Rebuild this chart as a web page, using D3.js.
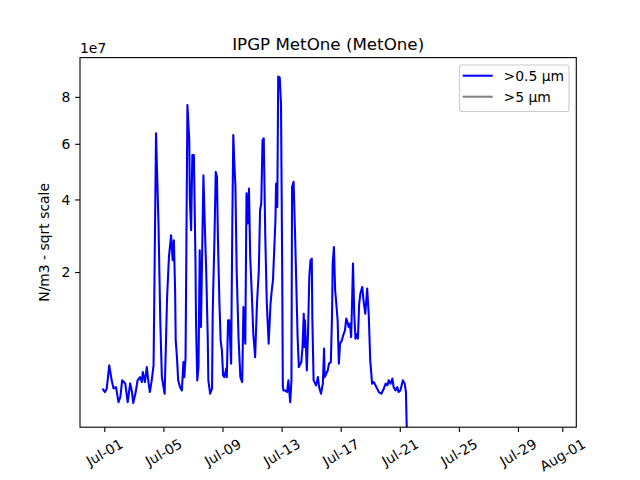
<!DOCTYPE html>
<html>
<head>
<meta charset="utf-8">
<script src="https://cdn.jsdelivr.net/npm/d3@7"></script>
<style>
html,body{margin:0;padding:0;background:#fff;}
svg{display:block;font-family:"DejaVu Sans",sans-serif;}
</style>
</head>
<body>
<svg id="chart" width="640" height="480"></svg>
<script>
// ---- data ----
const title = "IPGP MetOne (MetOne)";
const yLabel = "N/m3 - sqrt scale";
const seriesNames = [">0.5 µm", ">5 µm"];
const xTickLabels = ["Jul-01","Jul-05","Jul-09","Jul-13","Jul-17","Jul-21","Jul-25","Jul-29","Aug-01"];
const xTickDates = ["2023-07-01 00:00","2023-07-05 00:00","2023-07-09 00:00","2023-07-13 00:00","2023-07-17 00:00","2023-07-21 00:00","2023-07-25 00:00","2023-07-29 00:00","2023-08-01 00:00"];
const yTickValues = [2e7, 4e7, 6e7, 8e7];
const yTickLabels = ["2","4","6","8"];
const yOffsetText = "1e7";

const times05 = [
"2023-06-30 21:00","2023-07-01 01:00","2023-07-01 04:00","2023-07-01 08:00","2023-07-01 12:00","2023-07-01 15:00","2023-07-01 19:00","2023-07-01 23:00",
"2023-07-02 02:00","2023-07-02 05:00","2023-07-02 10:00","2023-07-02 14:00","2023-07-02 18:00","2023-07-02 21:00","2023-07-02 23:00",
"2023-07-03 03:00","2023-07-03 06:00","2023-07-03 10:00","2023-07-03 13:00","2023-07-03 14:30","2023-07-03 18:00","2023-07-03 21:00",
"2023-07-04 00:00","2023-07-04 02:00","2023-07-04 05:00","2023-07-04 08:00","2023-07-04 12:00","2023-07-04 16:00","2023-07-04 19:00","2023-07-04 21:30",
"2023-07-05 02:00","2023-07-05 06:00","2023-07-05 09:00","2023-07-05 12:30","2023-07-05 15:00","2023-07-05 17:00","2023-07-05 19:00","2023-07-05 20:00","2023-07-05 22:00",
"2023-07-06 00:00","2023-07-06 03:00","2023-07-06 06:00","2023-07-06 08:30","2023-07-06 10:00","2023-07-06 12:00","2023-07-06 15:00","2023-07-06 18:00","2023-07-06 19:00","2023-07-06 21:00","2023-07-06 23:00",
"2023-07-07 01:30","2023-07-07 04:00","2023-07-07 05:00","2023-07-07 07:00","2023-07-07 09:00","2023-07-07 11:00","2023-07-07 13:00","2023-07-07 17:00","2023-07-07 19:00","2023-07-07 21:30",
"2023-07-08 00:00","2023-07-08 01:00","2023-07-08 04:00","2023-07-08 07:00","2023-07-08 08:00","2023-07-08 09:00","2023-07-08 11:00","2023-07-08 13:00","2023-07-08 15:00","2023-07-08 16:30","2023-07-08 19:00","2023-07-08 21:00","2023-07-08 23:00",
"2023-07-09 01:00","2023-07-09 03:00","2023-07-09 06:00","2023-07-09 07:00","2023-07-09 09:00","2023-07-09 11:00","2023-07-09 14:00","2023-07-09 16:00","2023-07-09 17:30","2023-07-09 19:30","2023-07-09 21:00","2023-07-09 23:00",
"2023-07-10 02:00","2023-07-10 05:00","2023-07-10 08:00","2023-07-10 10:00","2023-07-10 13:00","2023-07-10 15:00","2023-07-10 17:00","2023-07-10 19:00","2023-07-10 21:00",
"2023-07-11 00:00","2023-07-11 02:00","2023-07-11 05:00","2023-07-11 08:00","2023-07-11 11:00","2023-07-11 13:00","2023-07-11 15:00","2023-07-11 17:00","2023-07-11 19:00","2023-07-11 21:30",
"2023-07-12 00:00","2023-07-12 03:00","2023-07-12 06:00","2023-07-12 08:00","2023-07-12 10:00","2023-07-12 12:00","2023-07-12 14:00","2023-07-12 15:00","2023-07-12 17:00","2023-07-12 18:30","2023-07-12 21:00","2023-07-12 23:00",
"2023-07-13 01:00","2023-07-13 02:00","2023-07-13 03:00","2023-07-13 06:00","2023-07-13 09:00","2023-07-13 11:00","2023-07-13 14:00","2023-07-13 16:00","2023-07-13 17:00","2023-07-13 19:30","2023-07-13 22:00",
"2023-07-14 02:00","2023-07-14 04:00","2023-07-14 08:00","2023-07-14 10:00","2023-07-14 12:00","2023-07-14 13:00","2023-07-14 14:00","2023-07-14 17:00","2023-07-14 19:00","2023-07-14 21:00","2023-07-14 23:00",
"2023-07-15 01:00","2023-07-15 02:00","2023-07-15 04:00","2023-07-15 08:00","2023-07-15 11:00","2023-07-15 13:00","2023-07-15 16:00","2023-07-15 19:00","2023-07-15 21:00","2023-07-15 22:00",
"2023-07-16 03:00","2023-07-16 05:00","2023-07-16 08:00","2023-07-16 10:00","2023-07-16 11:00","2023-07-16 13:00","2023-07-16 15:00","2023-07-16 16:00","2023-07-16 19:00","2023-07-16 21:00","2023-07-16 23:00",
"2023-07-17 02:00","2023-07-17 04:00","2023-07-17 07:00","2023-07-17 09:00","2023-07-17 11:00","2023-07-17 13:00","2023-07-17 15:00","2023-07-17 17:00","2023-07-17 18:00","2023-07-17 20:00","2023-07-17 22:00",
"2023-07-18 00:00","2023-07-18 01:00","2023-07-18 04:00","2023-07-18 06:00","2023-07-18 08:00","2023-07-18 11:00","2023-07-18 13:00","2023-07-18 16:00","2023-07-18 19:00","2023-07-18 21:30",
"2023-07-19 00:00","2023-07-19 03:00","2023-07-19 06:00","2023-07-19 10:00","2023-07-19 14:00","2023-07-19 18:00","2023-07-19 22:00",
"2023-07-20 01:00","2023-07-20 04:00","2023-07-20 06:00","2023-07-20 09:00","2023-07-20 12:00","2023-07-20 14:00","2023-07-20 17:00","2023-07-20 20:00","2023-07-20 22:00",
"2023-07-21 01:00","2023-07-21 05:00","2023-07-21 08:00","2023-07-21 10:00","2023-07-21 12:00"
];
const values05 = [
2.23e6,1.98e6,2.25e6,4.36e6,2.91e6,2.25e6,2.35e6,1.32e6,
1.63e6,2.91e6,2.65e6,1.32e6,2.65e6,1.98e6,1.27e6,
1.98e6,2.91e6,3.2e6,2.76e6,3.68e6,2.76e6,4.18e6,
2.63e6,1.98e6,2.91e6,4.36e6,6.42e7,3.27e7,1.0e7,3.2e6,
1.86e6,1.47e7,2.36e7,2.93e7,2.28e7,2.79e7,1.6e7,7.44e6,5.29e6,
2.91e6,2.35e6,2.1e6,4.72e6,3.2e6,5.29e6,7.63e7,6.15e7,3.98e7,3.07e7,5.56e7,
5.56e7,2.36e7,1.0e7,2.91e6,4.18e6,2.53e7,9.4e6,4.82e7,3.36e7,2.04e7,
7.9e6,2.91e6,1.86e6,2.23e6,1.1e7,1.67e7,2.88e7,4.94e7,4.76e7,2.88e7,1.35e7,7.44e6,6.11e6,
3.36e6,3.2e6,4.02e6,3.2e6,1.05e7,1.05e7,4.55e6,3.36e7,6.35e7,5.12e7,4.42e7,2.04e7,
7.9e6,3.2e6,2.76e6,1.28e7,6.99e6,4.2e7,3.26e7,4.36e7,2.36e7,
1.41e7,8.4e6,5.29e6,1.34e7,2.04e7,3.66e7,3.87e7,6.15e7,6.22e7,2.88e7,
1.34e7,6.99e6,1.34e7,1.6e7,1.82e7,2.53e7,3.36e7,4.53e7,3.76e7,8.95e7,8.9e7,7.71e7,
2.04e7,2.35e6,2.1e6,2.1e6,1.98e6,2.91e6,1.32e6,2.91e6,4.42e7,4.59e7,2.88e7,
7.9e6,4.18e6,4.72e6,6.54e6,1.16e7,6.54e6,1.05e7,3.84e6,8.9e6,1.89e7,2.28e7,
2.32e7,1.05e7,2.91e6,2.49e6,3.2e6,2.35e6,1.86e6,2.63e6,6.33e6,3.2e6,
3.84e6,4.55e6,4.72e6,1.16e7,2.2e7,2.61e7,1.6e7,1.47e7,1.05e7,4.55e6,6.99e6,
7.44e6,8.15e6,8.9e6,1.08e7,1.02e7,9.4e6,9.95e6,7.9e6,1.16e7,2.2e7,1.16e7,
7.68e6,8.4e6,7.68e6,1.34e7,1.54e7,1.67e7,1.41e7,1.16e7,1.64e7,1.16e7,
4.91e6,2.63e6,2.76e6,2.35e6,1.98e6,1.86e6,2.23e6,
2.63e6,2.49e6,2.91e6,2.63e6,3.06e6,2.35e6,2.1e6,2.35e6,1.98e6,
2.1e6,2.91e6,2.63e6,1.98e6,0
];
// >5 µm series: not visible in the reference (below the visible range)
const times5 = [];
const values5 = [];
const seriesColors = ["#0000ff", "#808080"];

// ---- layout ----
const W = 640, H = 480;
const L = 80, T = 57.6, R = 576.3, B = 427.2;
const parse = d3.timeParse("%Y-%m-%d %H:%M");

const svg = d3.select("#chart");
const x = d3.scaleTime()
  .domain([parse("2023-06-29 08:30"), parse("2023-08-01 22:45")])
  .range([L, R]);
const y = d3.scaleSqrt()
  .domain([2.6e5, 9.894e7])
  .range([B, T]);

svg.append("defs").append("clipPath").attr("id","clip")
  .append("rect").attr("x",L).attr("y",T).attr("width",R-L).attr("height",B-T);

const line = d3.line().x(d => x(d[0])).y(d => y(Math.max(d[1], 0)));

const s05 = times05.map((t,i) => [parse(t), values05[i]]);
const s5 = times5.map((t,i) => [parse(t), values5[i]]);

const g = svg.append("g").attr("clip-path","url(#clip)");
[s05, s5].forEach((s, i) => {
  if (!s.length) return;
  g.append("path").datum(s)
    .attr("d", line)
    .attr("fill","none")
    .attr("stroke", seriesColors[i])
    .attr("stroke-width",2.08)
    .attr("stroke-linejoin","round");
});

// axes frame
svg.append("rect").attr("x",L).attr("y",T).attr("width",R-L).attr("height",B-T)
  .attr("fill","none").attr("stroke","#000").attr("stroke-width",1.1);

// x axis
const xAxis = d3.axisBottom(x)
  .tickValues(xTickDates.map(parse))
  .tickSize(4.86).tickSizeOuter(0)
  .tickFormat((d,i) => xTickLabels[i]);
const gx = svg.append("g").attr("transform",`translate(0,${B})`).call(xAxis);
gx.select(".domain").remove();
gx.selectAll(".tick line").attr("stroke","#000").attr("stroke-width",1.1);
gx.selectAll(".tick text").each(function(){
  const t = d3.select(this);
  t.attr("font-size","13.9px").attr("font-family","DejaVu Sans").attr("fill","#000")
   .attr("y",0).attr("dy","0.32em").attr("text-anchor","middle");
  const w = this.getComputedTextLength();
  const bh = w*0.5 + 13.9*0.866;
  t.attr("transform",`translate(0,${4.86+4.86+bh/2}) rotate(-30)`);
});

// y axis
const yAxis = d3.axisLeft(y)
  .tickValues(yTickValues)
  .tickSize(4.86).tickSizeOuter(0)
  .tickFormat((d,i) => yTickLabels[i]);
const gy = svg.append("g").attr("transform",`translate(${L},0)`).call(yAxis);
gy.select(".domain").remove();
gy.selectAll(".tick line").attr("stroke","#000").attr("stroke-width",1.1);
gy.selectAll(".tick text").attr("font-size","13.9px").attr("font-family","DejaVu Sans")
  .attr("fill","#000").attr("x",-4.86-4.86).attr("dy","0.35em");

// offset text
svg.append("text").attr("x",L).attr("y",52.5).attr("font-size","13.9px")
  .attr("fill","#000").text(yOffsetText);

// title
svg.append("text").attr("x",(L+R)/2).attr("y",49.5).attr("text-anchor","middle")
  .attr("font-size","16.7px").attr("fill","#000").text(title);

// y label
svg.append("text").attr("transform",`translate(49,${(T+B)/2}) rotate(-90)`)
  .attr("text-anchor","middle").attr("font-size","13.9px").attr("fill","#000").text(yLabel);

// legend
const lg = svg.append("g");
lg.append("rect").attr("x",459.5).attr("y",65).attr("width",109.5).attr("height",46.5)
  .attr("rx",2.8).attr("fill","#fff").attr("fill-opacity",0.8)
  .attr("stroke","#cccccc").attr("stroke-width",1.1);
seriesNames.forEach((n,i) => {
  const yy = 75.7 + i*21;
  lg.append("line").attr("x1",462.7).attr("x2",492.7).attr("y1",yy).attr("y2",yy)
    .attr("stroke",seriesColors[i]).attr("stroke-width",2.08);
  lg.append("text").attr("x",503.5).attr("y",yy).attr("dy","0.35em")
    .attr("font-size","13.9px").attr("fill","#000").text(n);
});
</script>
</body>
</html>
